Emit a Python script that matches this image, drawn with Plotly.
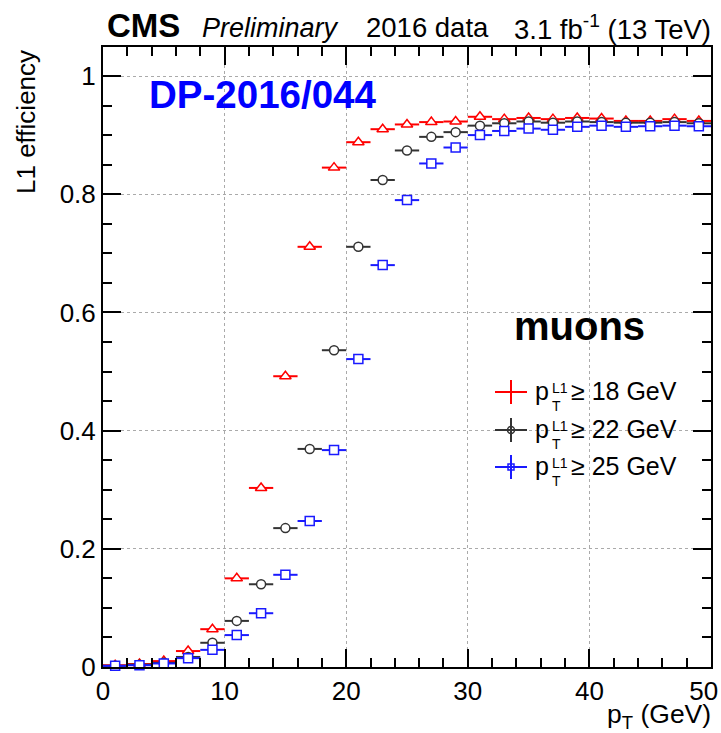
import plotly.graph_objects as go

# ---- data ----
pt_centers = [1, 3, 5, 7, 9, 11, 13, 15, 17, 19, 21, 23, 25, 27, 29, 31, 33, 35, 37, 39, 41, 43, 45, 47, 49]
pt_halfwidth = [1] * 25
eff_18 = [0.003, 0.005, 0.010, 0.027, 0.064, 0.150, 0.303, 0.492, 0.711, 0.845, 0.888, 0.910,
          0.918, 0.922, 0.923, 0.931, 0.927, 0.929, 0.927, 0.929, 0.928, 0.924, 0.924, 0.927, 0.924]
eff_22 = [0.002, 0.004, 0.007, 0.017, 0.041, 0.078, 0.140, 0.235, 0.369, 0.536, 0.711, 0.824,
          0.874, 0.897, 0.905, 0.916, 0.920, 0.923, 0.921, 0.923, 0.922, 0.921, 0.921, 0.922, 0.920]
eff_25 = [0.002, 0.003, 0.006, 0.015, 0.029, 0.054, 0.091, 0.156, 0.247, 0.367, 0.521, 0.680,
          0.790, 0.852, 0.879, 0.900, 0.907, 0.911, 0.909, 0.914, 0.916, 0.914, 0.915, 0.916, 0.915]
thresholds = ["18", "22", "25"]
x_ticks = [0, 10, 20, 30, 40, 50]
x_ticklabels = ["0", "10", "20", "30", "40", "50\u00a0\u00a0"]
y_ticks = [0, 0.2, 0.4, 0.6, 0.8, 1]
y_ticklabels = ["0", "0.2", "0.4", "0.6", "0.8", "1"]

FONT = "Liberation Sans, Arial, Helvetica, sans-serif"
W, H = 721, 733
ML, MR, MT, MB = 103, 10, 47, 66
PW, PH = W - ML - MR, H - MT - MB


def px(x):
    return (x - ML) / PW


def py(y):
    return (H - MB - y) / PH


RED = "#ff0000"
BLACK = "#333333"
BLUE = "#1a1aff"

series = [
    (eff_18, RED, "triangle-up", 10),
    (eff_22, BLACK, "circle", 9),
    (eff_25, BLUE, "square", 9),
]

fig = go.Figure()
for vals, col, sym, sz in series:
    fig.add_trace(go.Scatter(
        x=pt_centers, y=vals, mode="markers",
        error_x=dict(type="data", array=pt_halfwidth, visible=True, color=col, thickness=2, width=0),
        marker=dict(symbol=sym, size=sz, color="white", line=dict(color=col, width=1.5)),
        showlegend=False, cliponaxis=False,
    ))

axis_common = dict(
    showline=True, linecolor="black", linewidth=2, mirror="allticks",
    ticks="inside", ticklen=18, tickwidth=1.5, tickcolor="black",
    tickfont=dict(family=FONT, size=26, color="black"),
    ticklabeloverflow="allow", automargin=False,
    showgrid=True, gridcolor="#aaaaaa", gridwidth=1, griddash="dot",
    zeroline=False,
)

fig.update_xaxes(range=[0, 50], tickvals=x_ticks, ticktext=x_ticklabels,
                 minor=dict(dtick=2, ticklen=9, tickwidth=1.5, tickcolor="black", ticks="inside", showgrid=False),
                 **axis_common)
fig.update_yaxes(range=[0, 620 / 591], tickvals=y_ticks, ticktext=y_ticklabels,
                 minor=dict(dtick=0.05, ticklen=9, tickwidth=1.5, tickcolor="black", ticks="inside", showgrid=False),
                 **axis_common)

ann = []
# header
ann.append(dict(text="<b>CMS</b>", x=px(105), y=py(25.5), xanchor="left", yanchor="middle",
                font=dict(family=FONT, size=33, color="black")))
ann.append(dict(text="<i>Preliminary</i>", x=px(200), y=py(28), xanchor="left", yanchor="middle",
                font=dict(family=FONT, size=27, color="black")))
ann.append(dict(text="2016 data", x=px(364), y=py(28), xanchor="left", yanchor="middle",
                font=dict(family=FONT, size=27.5, color="black")))
ann.append(dict(text="3.1 fb<sup>-1</sup> (13 TeV)", x=px(713), y=py(28), xanchor="right", yanchor="middle",
                font=dict(family=FONT, size=27.5, color="black")))
# axis titles
ann.append(dict(text="L1 efficiency", x=px(26), y=py(122), xanchor="center", yanchor="middle", textangle=-90,
                font=dict(family=FONT, size=26, color="black")))
ann.append(dict(text="p<sub>T</sub> (GeV)", x=px(713), y=py(716), xanchor="right", yanchor="middle",
                font=dict(family=FONT, size=26.5, color="black")))
# labels
ann.append(dict(text="<b>DP-2016/044</b>", x=px(262), y=py(95), xanchor="center", yanchor="middle",
                font=dict(family=FONT, size=38.5, color="#0000ff")))
ann.append(dict(text="<b>muons</b>", x=px(579), y=py(326), xanchor="center", yanchor="middle",
                font=dict(family=FONT, size=40, color="black")))

shapes = []
leg_y = [392, 430, 467]
leg_cols = [RED, BLACK, BLUE]
for i, (yy, col, thr) in enumerate(zip(leg_y, leg_cols, thresholds)):
    shapes.append(dict(type="line", xref="paper", yref="paper", x0=px(495), x1=px(527), y0=py(yy), y1=py(yy),
                       line=dict(color=col, width=2)))
    shapes.append(dict(type="line", xref="paper", yref="paper", x0=px(511), x1=px(511), y0=py(yy - 12), y1=py(yy + 12),
                       line=dict(color=col, width=2)))
    if i == 1:
        shapes.append(dict(type="circle", xref="paper", yref="paper", x0=px(507.5), x1=px(514.5),
                           y0=py(yy - 3.5), y1=py(yy + 3.5), line=dict(color=col, width=1.5)))
    if i == 2:
        shapes.append(dict(type="rect", xref="paper", yref="paper", x0=px(508), x1=px(514),
                           y0=py(yy - 3), y1=py(yy + 3), line=dict(color=col, width=1.5)))
    ann.append(dict(text="p", x=px(533), y=py(yy - 1), xanchor="left", yanchor="middle",
                    font=dict(family=FONT, size=25, color="black")))
    ann.append(dict(text="L1", x=px(550), y=py(yy - 4), xanchor="left", yanchor="middle",
                    font=dict(family=FONT, size=14, color="black")))
    ann.append(dict(text="T", x=px(550), y=py(yy + 14), xanchor="left", yanchor="middle",
                    font=dict(family=FONT, size=14, color="black")))
    ann.append(dict(text="\u2265 " + thr + " GeV", x=px(569), y=py(yy - 1), xanchor="left", yanchor="middle",
                    font=dict(family=FONT, size=25, color="black")))

for a in ann:
    a.update(xref="paper", yref="paper", showarrow=False)

fig.update_layout(
    width=W, height=H, autosize=False,
    margin=dict(l=ML, r=MR, t=MT, b=MB, autoexpand=False),
    paper_bgcolor="white", plot_bgcolor="white",
    annotations=ann, shapes=shapes,
    font=dict(family=FONT),
)

fig.write_html("out.html")
